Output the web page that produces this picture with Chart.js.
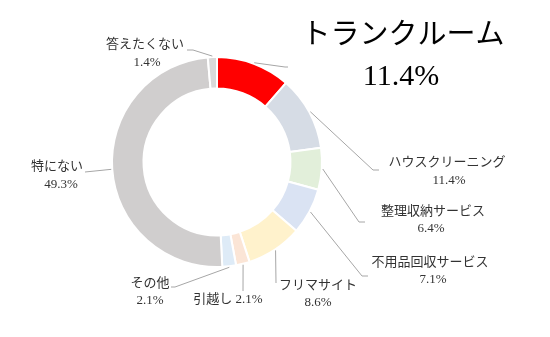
<!DOCTYPE html>
<html>
<head>
<meta charset="utf-8">
<script src="https://cdn.jsdelivr.net/npm/chart.js@4"></script>
<style>
  html, body { margin: 0; padding: 0; background: #fff; }
  #wrap { width: 550px; height: 337px; position: relative; }
</style>
</head>
<body>
<div id="wrap"><canvas id="donut"></canvas></div>
<script>
var categories = ['トランクルーム', 'ハウスクリーニング', '整理収納サービス', '不用品回収サービス',
                  'フリマサイト', '引越し', 'その他', '特にない', '答えたくない'];
var shares = [11.4, 11.4, 6.4, 7.1, 8.6, 2.1, 2.1, 49.3, 1.4];
var sliceColors = ['#ff0000', '#d6dce5', '#e2efda', '#dae3f3', '#fff2cc',
                   '#fbe5d6', '#deebf7', '#d0cece', '#d9d9d9'];

var FONT = "'Liberation Serif', 'Noto Sans CJK JP', serif";

// where each label goes: leader elbow points, then name / value text
var labelSpots = [
  { lead: [[285, 67], [288, 67]], name: [403, 36], value: [401, 77], big: true },
  { lead: [[373, 170], [379, 170]], name: [447, 163], value: [449, 181] },
  { lead: [[359, 222], [365, 222]], name: [433, 212], value: [431, 229] },
  { lead: [[362, 276], [368, 276]], name: [430, 263], value: [433, 280] },
  { lead: [[276, 283]], name: [318, 286], value: [318, 303] },
  { lead: [[243, 291]], name: [228, 300], inline: true },
  { lead: [[175, 287], [171, 287]], name: [150, 284], value: [150, 301] },
  { lead: [[85, 172]], name: [57, 167], value: [61, 185] },
  { lead: [[193, 50], [187, 50]], name: [145, 45], value: [147, 63] }
];

var leaderLabels = {
  id: 'leaderLabels',
  afterDatasetsDraw: function (chart) {
    var ctx = chart.ctx;
    var arcs = chart.getDatasetMeta(0).data;
    ctx.save();
    arcs.forEach(function (arc, i) {
      var p = arc.getProps(['x', 'y', 'startAngle', 'endAngle', 'outerRadius'], true);
      var mid = (p.startAngle + p.endAngle) / 2;
      var spot = labelSpots[i];
      var pct = shares[i].toFixed(1) + '%';

      ctx.strokeStyle = '#a6a6a6';
      ctx.lineWidth = 1;
      ctx.beginPath();
      ctx.moveTo(p.x + Math.cos(mid) * (p.outerRadius + 1), p.y + Math.sin(mid) * (p.outerRadius + 1));
      spot.lead.forEach(function (pt) { ctx.lineTo(pt[0], pt[1]); });
      ctx.stroke();

      ctx.textAlign = 'center';
      ctx.textBaseline = 'middle';
      if (spot.big) {
        ctx.fillStyle = '#000';
        ctx.font = '29px ' + FONT;
        ctx.fillText(categories[i], spot.name[0], spot.name[1]);
        ctx.font = '30px ' + FONT;
        ctx.fillText(pct, spot.value[0], spot.value[1]);
      } else if (spot.inline) {
        ctx.fillStyle = '#333333';
        ctx.font = '13px ' + FONT;
        ctx.fillText(categories[i] + ' ' + pct, spot.name[0], spot.name[1]);
      } else {
        ctx.fillStyle = '#333333';
        ctx.font = '13px ' + FONT;
        ctx.fillText(categories[i], spot.name[0], spot.name[1]);
        ctx.fillText(pct, spot.value[0], spot.value[1]);
      }
    });
    ctx.restore();
  }
};

new Chart(document.getElementById('donut'), {
  type: 'doughnut',
  data: {
    labels: categories,
    datasets: [{
      data: shares,
      backgroundColor: sliceColors,
      borderColor: '#ffffff',
      borderWidth: 2,
      hoverOffset: 0,
      offset: 0
    }]
  },
  options: {
    responsive: true,
    maintainAspectRatio: false,
    animation: false,
    cutout: '70%',
    layout: { padding: { left: 111, right: 227, top: 56, bottom: 69 } },
    plugins: {
      legend: { display: false },
      tooltip: { enabled: false }
    }
  },
  plugins: [leaderLabels]
});
</script>
</body>
</html>
